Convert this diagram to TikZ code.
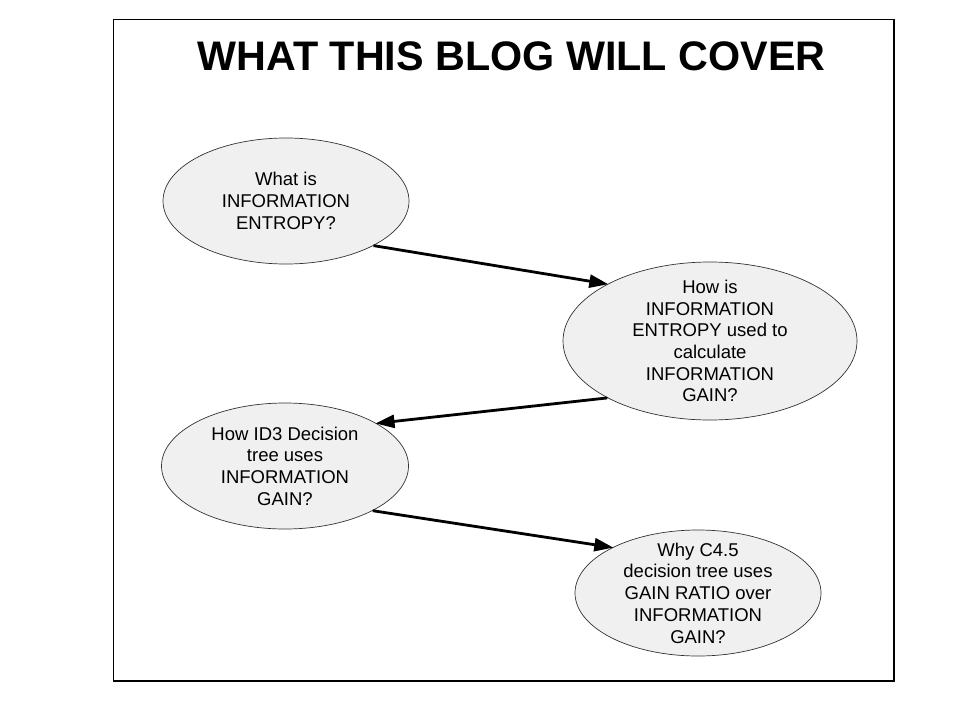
\documentclass[tikz,border=0pt]{standalone}
\usepackage{fontspec}
\setmainfont{Liberation Sans}
\usetikzlibrary{shapes.geometric,arrows.meta}
\begin{document}
\begin{tikzpicture}[x=1pt,y=-1pt,
  topic/.style={ellipse,draw=black!80,line width=0.7pt,fill=black!6,inner sep=0pt},
  topictext/.style={align=center,inner sep=0pt,font=\fontsize{18.5}{21.7}\selectfont},
  link/.style={line width=2.8pt,-{Triangle[length=19pt,width=13pt]},shorten >=-1pt}]
\useasboundingbox (0,0) rectangle (960,720);
\fill[white] (0,0) rectangle (960,720);
\draw[line width=1.2pt] (113.5,19.5) rectangle (894,681);
\node[font=\fontsize{41.3}{44}\bfseries, anchor=base] (title) at (511.5,70) {WHAT THIS BLOG WILL COVER};
\node[topic,minimum width=246pt,minimum height=126pt] (n1) at (286,201) {};
\node[topic,minimum width=294pt,minimum height=158pt] (n2) at (710,341) {};
\node[topic,minimum width=247pt,minimum height=126pt] (n3) at (285,466) {};
\node[topic,minimum width=246pt,minimum height=126pt] (n4) at (698,593) {};
\node[topictext] (t1) at (n1.center) {What is\\INFORMATION\\ENTROPY?};
\node[topictext] (t2) at (n2.center) {How is\\INFORMATION\\ENTROPY used to\\calculate\\INFORMATION\\GAIN?};
\node[topictext] (t3) at (n3.center) {How ID3 Decision\\tree uses\\INFORMATION\\GAIN?};
\node[topictext] (t4) at (n4.center) {Why C4.5\\decision tree uses\\GAIN RATIO over\\INFORMATION\\GAIN?};
\draw[link] (n1.-27) -- (n2.151);
\draw[link] (n2.209) -- (n3.25.5);
\draw[link] (n3.-27.6) -- (n4.152.4);
\end{tikzpicture}
\end{document}
